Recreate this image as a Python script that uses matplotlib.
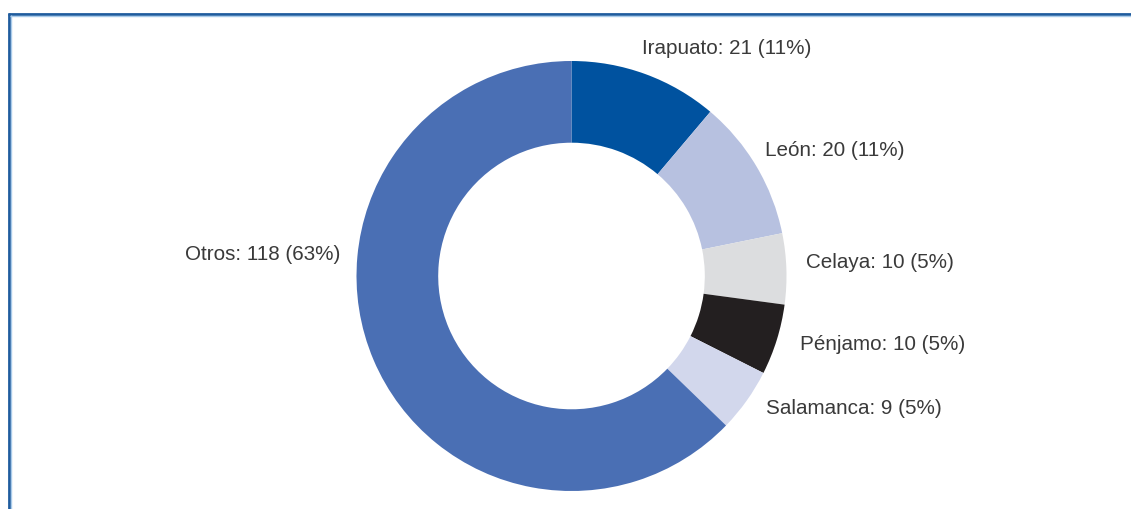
import matplotlib
matplotlib.use("Agg")
import matplotlib.pyplot as plt

categories = ["Irapuato", "León", "Celaya", "Pénjamo", "Salamanca", "Otros"]
values = [21, 20, 10, 10, 9, 118]
percents = [11, 11, 5, 5, 5, 63]
colors = ["#00529F", "#B7C1E0", "#DCDDDF", "#231F20", "#D2D7EC", "#4A6FB4"]

W, H = 1131, 509
fig = plt.figure(figsize=(W / 100, H / 100), dpi=100)
ax = fig.add_axes([0, 0, 1, 1])

cx, cy, R = 571.5, H - 276, 215
ax.pie(values, colors=colors, startangle=90, counterclock=False,
       radius=R, center=(cx, cy),
       wedgeprops=dict(width=R * 0.38, linewidth=0))

ax.set_xlim(0, W)
ax.set_ylim(0, H)
ax.set_aspect("equal")
ax.axis("off")

# label layout (pixel positions from top-left)
label_pos = [(727, 48, "center"), (765, 150, "left"), (806, 263, "left"),
             (800, 344, "left"), (766, 409, "left"), (340, 255, "right")]
for name, v, p, (x, y, ha) in zip(categories, values, percents, label_pos):
    ax.text(x, H - y, f"{name}: {v} ({p}%)", ha=ha, va="center",
            fontsize=14.9, color="#3a3a3a", family="Liberation Sans")

# frame lines
ax.plot([8.5, 8.5], [0, H - 13], color="#1F5C9E", lw=2.0, solid_capstyle="butt")
ax.plot([8, W], [H - 13.5, H - 13.5], color="#1F5C9E", lw=2.0, solid_capstyle="butt")
ax.plot([10.5, 10.5], [0, H - 15], color="#A9CBEA", lw=1.0, solid_capstyle="butt")
ax.plot([10, W], [H - 15.5, H - 15.5], color="#A9CBEA", lw=1.0, solid_capstyle="butt")

fig.savefig("out.png", dpi=100)
